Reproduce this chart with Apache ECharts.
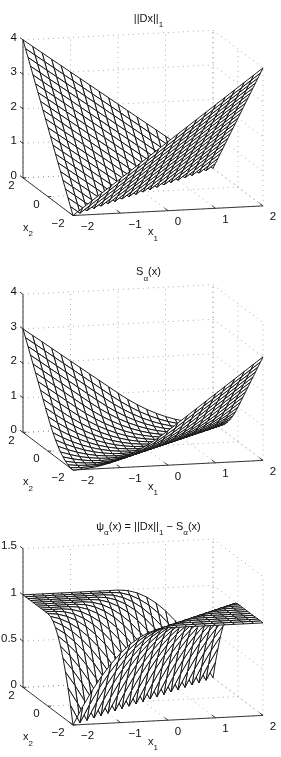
<!DOCTYPE html>
<html>
<head>
<meta charset="utf-8">
<style>html,body{margin:0;padding:0;background:#fff}#c{width:281px;height:757px}</style>
<script src="https://cdn.jsdelivr.net/npm/echarts@6/dist/echarts.min.js"></script>
</head>
<body>
<div id="c"></div>
<script>
// ---- values ----
const gridCoords = [-2,-1.8,-1.6,-1.4,-1.2,-1,-0.8,-0.6,-0.4,-0.2,0,0.2,0.4,0.6,0.8,1,1.2,1.4,1.6,1.8,2];
// Surface height by grid distance |x1 - x2| = 0, 0.2, ... 4 (all three surfaces are ridges along x1 = x2)
const dxNormProfile = [0,0.2,0.4,0.6,0.8,1,1.2,1.4,1.6,1.8,2,2.2,2.4,2.6,2.8,3,3.2,3.4,3.6,3.8,4];
const sAlphaProfile = [0,0.01,0.04,0.09,0.16,0.25,0.36,0.49,0.64,0.81,1,1.2,1.4,1.6,1.8,2,2.2,2.4,2.6,2.8,3];
const psiAlphaProfile = [0,0.19,0.36,0.51,0.64,0.75,0.84,0.91,0.96,0.99,1,1,1,1,1,1,1,1,1,1,1];
const x1Ticks = [-2,-1,0,1,2];
const x2Ticks = [-2,0,2];
const zTicksNorm = [0,1,2,3,4];
const zTicksPsi = [0,0.5,1,1.5];
const zLabelsPsi = ['0','0.5','1','1.5'];

const FONT = 'Liberation Sans, Arial, sans-serif';
const richText = {
  n: {fontFamily: FONT, fontSize: 11, fontWeight: 'normal', fill: '#111', color: '#111', lineHeight: 16, verticalAlign: 'top'},
  s: {fontFamily: FONT, fontSize: 8, fontWeight: 'normal', fill: '#111', color: '#111', lineHeight: 16, verticalAlign: 'bottom'}
};
const panels = [
  {top: 0,     title: '{n|||Dx||}{s|1}', titleY: 8, profile: dxNormProfile, zTicks: zTicksNorm, zLabels: zTicksNorm.map(String), zUnit: 34.5},
  {top: 254.5, title: '{n|S}{s|α}{n|(x)}', titleY: 7, profile: sAlphaProfile, zTicks: zTicksNorm, zLabels: zTicksNorm.map(String), zUnit: 34.5},
  {top: 509.5, title: '{n|ψ}{s|α}{n|(x) = ||Dx||}{s|1}{n| − S}{s|α}{n|(x)}', titleY: 6.5, profile: psiAlphaProfile, zTicks: zTicksPsi, zLabels: zLabelsPsi, zUnit: 92.5}
];
const proj = (a, b, z, zUnit) => [47.5 * a - 12.5 * b, 2.4 * a + 9.4 * b + zUnit * z];

const option = {animation: false, backgroundColor: '#fff', title: [], grid: [], xAxis: [], yAxis: [], series: []};

panels.forEach((p, k) => {
  option.title.push({text: p.title, left: 143.5, top: p.top + p.titleY, textAlign: 'center', textStyle: {fontWeight: 'normal', rich: richText}});
  option.grid.push({left: 0, top: p.top, width: 281, height: 245});
  option.xAxis.push({type: 'value', gridIndex: k, min: -143, max: 138, show: false});
  option.yAxis.push({type: 'value', gridIndex: k, min: -53.1, max: 191.9, show: false});
  const base = {type: 'custom', coordinateSystem: 'cartesian2d', xAxisIndex: k, yAxisIndex: k, silent: true, clip: false, animation: false, progressive: 0};
  const zMax = p.zTicks[p.zTicks.length - 1];
  const pt = (api, a, b, z) => api.coord(proj(a, b, z, p.zUnit));

  // dotted grid on the floor and the two back walls
  const dots = [];
  x1Ticks.forEach(a => { dots.push([a,-2,0,a,2,0]); dots.push([a,2,0,a,2,zMax]); });
  x2Ticks.forEach(b => { dots.push([-2,b,0,2,b,0]); dots.push([2,b,0,2,b,zMax]); });
  p.zTicks.forEach(z => { dots.push([-2,2,z,2,2,z]); dots.push([2,2,z,2,-2,z]); });
  option.series.push(Object.assign({}, base, {
    z: 1, data: dots,
    renderItem: (ps, api) => {
      const s = pt(api, api.value(0), api.value(1), api.value(2)), e = pt(api, api.value(3), api.value(4), api.value(5));
      return {type: 'line', shape: {x1: s[0], y1: s[1], x2: e[0], y2: e[1]}, style: {stroke: '#777', lineWidth: 0.6, lineDash: [1, 4]}};
    }
  }));

  // axis lines and ticks
  const solid = [[-2,2,0,-2,2,zMax],[-2,-2,0,2,-2,0],[-2,-2,0,-2,2,0]];
  x1Ticks.forEach(a => solid.push([a,-2,0,a,-1.72,0]));
  x2Ticks.forEach(b => solid.push([-2,b,0,-1.93,b,0]));
  p.zTicks.forEach(z => solid.push([-2,2,z,-2,2.24,z]));
  option.series.push(Object.assign({}, base, {
    z: 2, data: solid,
    renderItem: (ps, api) => {
      const s = pt(api, api.value(0), api.value(1), api.value(2)), e = pt(api, api.value(3), api.value(4), api.value(5));
      return {type: 'line', shape: {x1: s[0], y1: s[1], x2: e[0], y2: e[1]}, style: {stroke: '#222', lineWidth: 0.9}};
    }
  }));

  // surface: white cells with black edges, painted back to front
  const cells = [];
  const h = (i, j) => p.profile[Math.abs(i - j)];
  for (let j = gridCoords.length - 2; j >= 0; j--) {
    for (let i = gridCoords.length - 2; i >= 0; i--) {
      cells.push([gridCoords[i], gridCoords[i+1], gridCoords[j], gridCoords[j+1], h(i,j), h(i+1,j), h(i+1,j+1), h(i,j+1)]);
    }
  }
  option.series.push(Object.assign({}, base, {
    z: 3, data: cells,
    renderItem: (ps, api) => {
      const a0 = api.value(0), a1 = api.value(1), b0 = api.value(2), b1 = api.value(3);
      return {
        type: 'polygon', z2: ps.dataIndex,
        shape: {points: [pt(api,a0,b0,api.value(4)), pt(api,a1,b0,api.value(5)), pt(api,a1,b1,api.value(6)), pt(api,a0,b1,api.value(7))]},
        style: {fill: '#fff', stroke: '#111', lineWidth: 0.95, lineJoin: 'bevel'}
      };
    }
  }));

  // tick labels and axis names
  const labels = [];
  p.zTicks.forEach((z, n) => labels.push([-2, 2, z, -6, -2.5, p.zLabels[n], 'right']));
  x2Ticks.forEach(b => labels.push([-2, b, 0, b === -2 ? -15 : -11.5, 8, b < 0 ? '−' + Math.abs(b) : String(b), 'center']));
  x1Ticks.forEach(a => labels.push([a, -2, 0, a < 0 ? 14.5 : 10, 11.3, a < 0 ? '−' + Math.abs(a) : String(a), 'center']));
  labels.push([-2, -2, 0, 80, 19, '{n|x}{s|1}', 'center']);
  labels.push([-2, -2, 0, -45, 14.5, '{n|x}{s|2}', 'center']);
  option.series.push(Object.assign({}, base, {
    z: 4, data: labels, dimensions: ['a','b','z','dx','dy',{name:'t',type:'ordinal'},{name:'al',type:'ordinal'}],
    renderItem: (ps, api) => {
      const q = pt(api, api.value(0), api.value(1), api.value(2));
      const it = labels[ps.dataIndex];
      return {type: 'text', style: {x: q[0] + it[3], y: q[1] + it[4], text: it[5], align: it[6], verticalAlign: 'middle',
        font: '11.5px ' + FONT, fill: '#111', rich: richText}};
    }
  }));
});

const chart = echarts.init(document.getElementById('c'), null, {renderer: 'canvas'});
chart.setOption(option);
</script>
</body>
</html>
